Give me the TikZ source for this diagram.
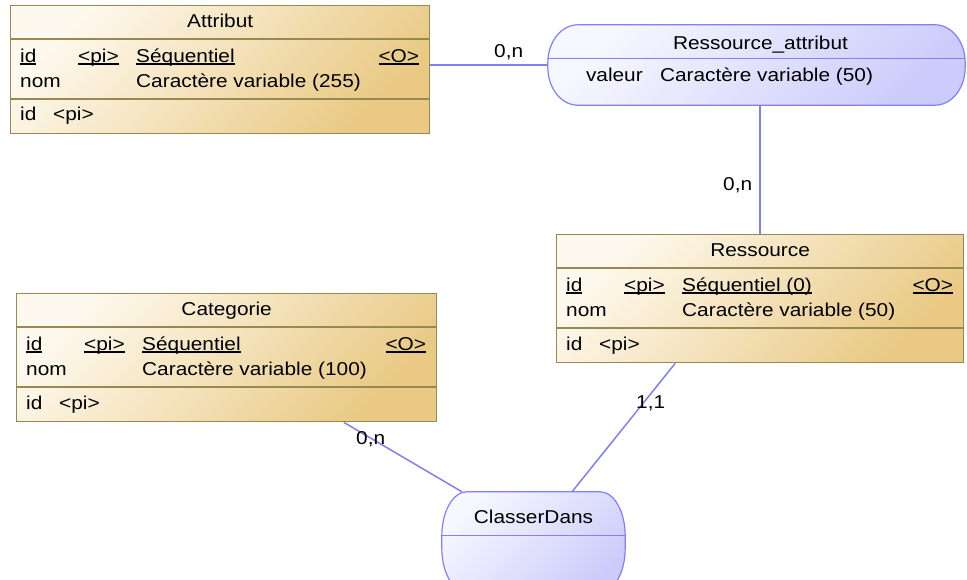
\documentclass[tikz,border=0pt]{standalone}
\usepackage{fontspec}
\setmainfont[FakeStretch=1.12]{Liberation Sans}
\usetikzlibrary{calc}

% colours of the conceptual data model
\definecolor{entlight}{RGB}{254,249,238}
\definecolor{entdark}{RGB}{233,201,131}
\definecolor{entline}{RGB}{150,138,82}
\definecolor{asslight}{RGB}{247,247,255}
\definecolor{assdark}{RGB}{204,204,252}
\definecolor{assline}{RGB}{128,128,255}
\definecolor{linkc}{RGB}{128,128,240}

% underline at a fixed depth, whatever the descenders
\newcommand\ulx[1]{\setbox0=\hbox{#1}\rlap{\rule[-2.2pt]{\wd0}{1.3pt}}\box0}

\tikzset{
  entity/.style={draw=entline, line width=1.3pt, inner sep=0pt,
    top color=entlight, bottom color=entdark, shading angle=45},
  entsep/.style={draw=entline, line width=1.3pt},
  assocframe/.style={draw=none, inner sep=0pt},
  assocbody/.style={draw=assline, line width=1.2pt,
    top color=asslight, bottom color=assdark, shading angle=45},
  asssep/.style={draw=assline, line width=1.2pt},
  link/.style={draw=linkc, line width=1.5pt},
  lbl/.style={inner sep=0pt, font=\fontsize{18.6}{22}\selectfont, text=black},
}

% entity: name, left, top, width, title, type of id, type of nom
\newcommand\entitybox[7]{%
  \node[entity, minimum width=#4pt, minimum height=128pt, anchor=north west] (#1) at (#2,#3) {};
  \draw[entsep] ([yshift=-34pt]#1.north west) -- ([yshift=-34pt]#1.north east);
  \draw[entsep] ([yshift=-94pt]#1.north west) -- ([yshift=-94pt]#1.north east);
  \node[lbl, anchor=base] (#1-title) at ([yshift=-23pt]#1.north) {#5};
  \node[lbl, anchor=base west] (#1-idname) at ([xshift=10pt,yshift=-57.5pt]#1.north west) {\ulx{id}};
  \node[lbl, anchor=base west] (#1-idpi) at ([xshift=68pt,yshift=-57.5pt]#1.north west) {\ulx{<pi>}};
  \node[lbl, anchor=base west] (#1-idtype) at ([xshift=126pt,yshift=-57.5pt]#1.north west) {\ulx{#6}};
  \node[lbl, anchor=base east] (#1-idopt) at ([xshift=-11pt,yshift=-57.5pt]#1.north east) {\ulx{<O>}};
  \node[lbl, anchor=base west] (#1-nom) at ([xshift=10pt,yshift=-82.5pt]#1.north west) {nom};
  \node[lbl, anchor=base west] (#1-nomtype) at ([xshift=126pt,yshift=-82.5pt]#1.north west) {#7};
  \node[lbl, anchor=base west] (#1-keyid) at ([xshift=10pt,yshift=-116pt]#1.north west) {id};
  \node[lbl, anchor=base west] (#1-keypi) at ([xshift=43pt,yshift=-116pt]#1.north west) {<pi>};
}

% association outline with elliptic corners: node name, x radius, y radius
\newcommand\assocshape[3]{%
  \path[assocbody]
    ([xshift=#2pt]#1.north west) -- ([xshift=-#2pt]#1.north east)
    arc[start angle=90, end angle=0, x radius=#2pt, y radius=#3pt]
    -- ([yshift=#3pt]#1.south east)
    arc[start angle=0, end angle=-90, x radius=#2pt, y radius=#3pt]
    -- ([xshift=#2pt]#1.south west)
    arc[start angle=270, end angle=180, x radius=#2pt, y radius=#3pt]
    -- ([yshift=-#3pt]#1.north west)
    arc[start angle=180, end angle=90, x radius=#2pt, y radius=#3pt]
    -- cycle;
}

\begin{document}
\begin{tikzpicture}[x=1pt, y=-1pt]
\useasboundingbox (0,0) rectangle (967,580);
\clip (0,0) rectangle (967,580);

% entities
\entitybox{attr}{10}{5}{419}{Attribut}{Séquentiel}{Caractère variable (255)}
\entitybox{cat}{16}{293}{420}{Categorie}{Séquentiel}{Caractère variable (100)}
\entitybox{res}{556}{234}{407}{Ressource}{Séquentiel (0)}{Caractère variable (50)}

% association Ressource_attribut
\node[assocframe, minimum width=417pt, minimum height=80pt] (ra) at (756.5,65) {};
\assocshape{ra}{30}{38}
\draw[asssep] ([yshift=-34pt]ra.north west) -- ([yshift=-34pt]ra.north east);
\node[lbl, anchor=base] (ra-title) at ([xshift=4pt,yshift=-25pt]ra.north) {Ressource\_attribut};
\node[lbl, anchor=base west] (ra-val) at ([xshift=38pt,yshift=-57pt]ra.north west) {valeur};
\node[lbl, anchor=base west] (ra-valtype) at ([xshift=112pt,yshift=-57pt]ra.north west) {Caractère variable (50)};

% association ClasserDans
\node[assocframe, minimum width=183pt, minimum height=100pt] (cd) at (533.5,542) {};
\assocshape{cd}{25}{44}
\draw[asssep] ([yshift=-44pt]cd.north west) -- ([yshift=-44pt]cd.north east);
\node[lbl, anchor=base] (cd-title) at ([yshift=-32pt]cd.north) {ClasserDans};

% links
\draw[link] (attr.east |- ra.west) -- (ra.west);
\draw[link] (ra.south -| res.north) -- (res.north);
\draw[link] ($(cat.south west)!0.778!(cat.south east)$) -- ($(cd.north west)!0.11!(cd.north east)$);
\draw[link] ($(res.south west)!0.292!(res.south east)$) -- ($(cd.north west)!0.71!(cd.north east)$);

% cardinalities
\node[lbl, anchor=base west] (card-attr) at (494,58) {0,n};
\node[lbl, anchor=base west] (card-res) at (723,191) {0,n};
\node[lbl, anchor=base west] (card-cat) at (356,444) {0,n};
\node[lbl, anchor=base west] (card-cd) at (636,408) {1,1};
\end{tikzpicture}
\end{document}
